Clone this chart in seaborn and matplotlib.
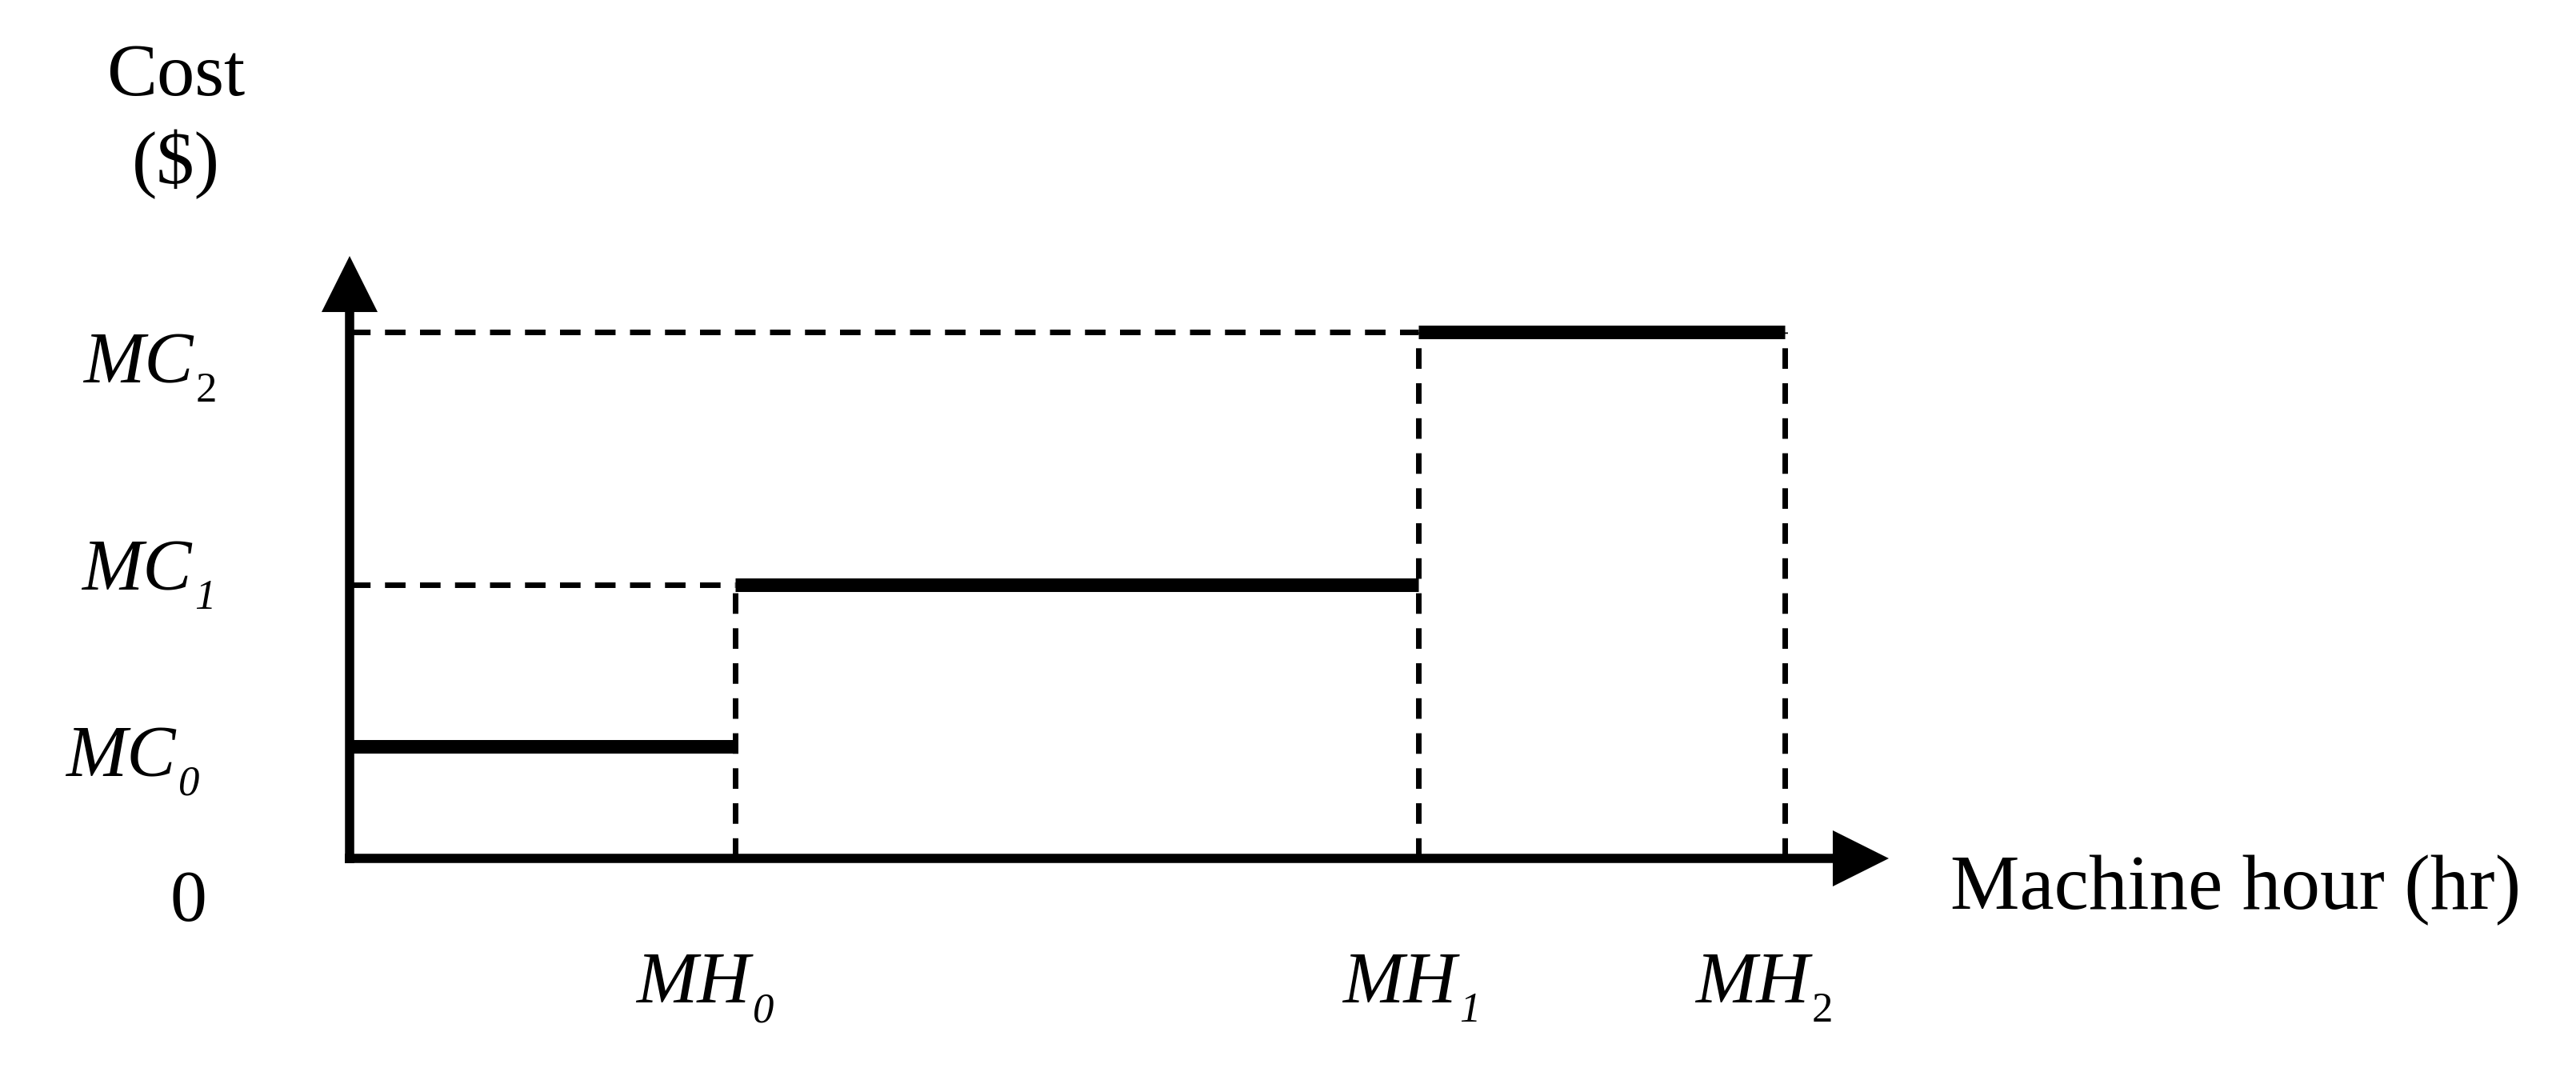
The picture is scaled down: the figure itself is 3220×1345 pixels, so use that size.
import pandas as pd
import numpy as np
import matplotlib
matplotlib.use('Agg')
import matplotlib.pyplot as plt
import seaborn as sns

sns.set_style('white')
plt.rcParams['font.family'] = ['Liberation Serif', 'DejaVu Serif']
plt.rcParams['text.color'] = 'black'

# breakpoints on the machine-hour axis and cost levels
mh_values = [4.82, 13.36, 17.94]
mc_values = [1.40, 3.42, 6.58]
mh_names = ['MH', 'MH', 'MH']
mc_names = ['MC', 'MC', 'MC']
subscripts = ['0', '1', '2']
x_end = 19.24   # tip of x arrow
y_end = 7.53    # tip of y arrow

# cost steps: MC0 on [0, MH0], MC1 on [MH0, MH1], MC2 on [MH1, MH2]
starts = [0] + mh_values[:-1]
steps = pd.DataFrame({
    'seg': np.repeat([0, 1, 2], 2),
    'x': [v for s, e in zip(starts, mh_values) for v in (s, e)],
    'y': [v for c in mc_values for v in (c, c)],
})

fig = plt.figure(figsize=(32.2, 13.45), dpi=100)
W, H = 3220, 1345
ox, oy = 437, 1073          # origin in pixels
tx, ty = 2361, 320          # arrow tips in pixels
ax = fig.add_axes([ox / W, (H - oy) / H, (tx - ox) / W, (oy - ty) / H])
ax.set_xlim(0, x_end)
ax.set_ylim(0, y_end)
ax.axis('off')

dash_kw = dict(color='black', lw=5.0, linestyle=(0, (3.7, 2.6)))
# dashed guides
ax.hlines([mc_values[1], mc_values[2]], 0, [mh_values[0], mh_values[1]], **dash_kw)
ax.vlines(mh_values, 0, [mc_values[1], mc_values[2], mc_values[2]], **dash_kw)

# thick step segments
sns.lineplot(data=steps, x='x', y='y', units='seg', estimator=None,
             color='black', lw=12.2, solid_capstyle='butt', ax=ax, legend=False)

# axes with arrow heads
arrow = dict(arrowstyle='-|>,head_length=3.7,head_width=1.85', color='black',
             lw=8.3, shrinkA=0, shrinkB=0, mutation_scale=10,
             joinstyle='miter', capstyle='butt')
ax.annotate('', xy=(x_end, 0), xytext=(-0.06, 0), arrowprops=arrow, annotation_clip=False)
ax.annotate('', xy=(0, y_end), xytext=(0, -0.06), arrowprops=arrow, annotation_clip=False)

px = 0.72  # pixels -> points at dpi 100
fs = 66
fs_sub = 38


def sub_label(xy, name, sub, sub_dx, base_dy, sub_upright):
    # italic name ending just before the subscript, subscript dropped below baseline
    ax.annotate(name, xy=xy, xytext=((sub_dx - 3) * px, base_dy * px),
                textcoords='offset points', ha='right', va='baseline',
                fontsize=fs, style='italic', annotation_clip=False)
    ax.annotate(sub, xy=xy, xytext=(sub_dx * px, (base_dy - 24) * px),
                textcoords='offset points', ha='left', va='baseline',
                fontsize=fs_sub, style='normal' if sub_upright else 'italic',
                annotation_clip=False)


# cost labels: subscript left edge / main baseline, pixels from the axis
mc_offsets = [(-214, -37), (-194, -6), (-192, -63)]
for i, (c, (dx, dy)) in enumerate(zip(mc_values, mc_offsets)):
    sub_label((0, c), mc_names[i], subscripts[i], dx, dy, i == 2)

mh_offsets = [(22, -180), (51, -180), (34, -180)]
for i, (m, (dx, dy)) in enumerate(zip(mh_values, mh_offsets)):
    sub_label((m, 0), mh_names[i], subscripts[i], dx, dy, i == 2)

ax.annotate('0', xy=(0, 0), xytext=(-202 * px, -78 * px), textcoords='offset points',
            ha='center', va='baseline', fontsize=fs, annotation_clip=False)

fig.text(2438 / W, 1 - 1136 / H, 'Machine hour (hr)', ha='left', va='baseline', fontsize=fs + 4)
fig.text(220 / W, 1 - 119 / H, 'Cost', ha='center', va='baseline', fontsize=fs + 2)
fig.text(220 / W, 1 - 205 / H, '($)', ha='center', va='center', fontsize=fs + 2)

fig.savefig('out.png', dpi=100, facecolor='white')
